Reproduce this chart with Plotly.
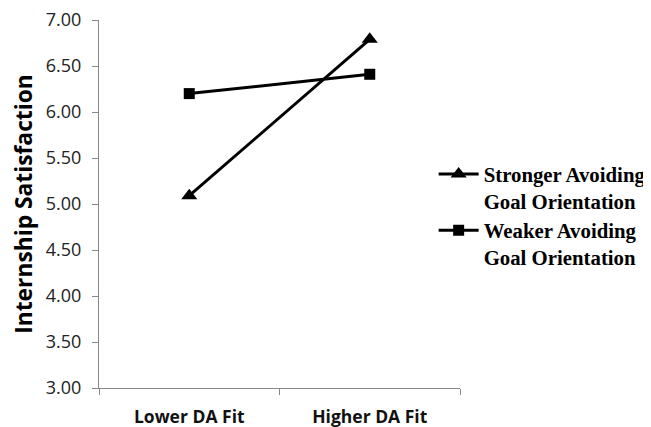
import plotly.graph_objects as go

categories = ["Lower DA Fit", "Higher DA Fit"]
stronger = [5.09, 6.79]
weaker = [6.20, 6.41]
series_names = ["Stronger Avoiding<br>Goal Orientation", "Weaker Avoiding<br>Goal Orientation"]
y_ticks = [3.0, 3.5, 4.0, 4.5, 5.0, 5.5, 6.0, 6.5, 7.0]

fig = go.Figure()
fig.add_trace(go.Scatter(
    x=categories, y=stronger, name=series_names[0], mode="lines+markers",
    line=dict(color="black", width=3),
    marker=dict(symbol="triangle-up", size=14, color="black"),
    legend="legend",
))
fig.add_trace(go.Scatter(
    x=categories, y=weaker, name=series_names[1], mode="lines+markers",
    line=dict(color="black", width=3),
    marker=dict(symbol="square", size=11, color="black"),
    legend="legend2",
))

legend_font = dict(family="Liberation Serif", size=20.8, color="black", weight="bold")

fig.update_layout(
    width=651, height=427,
    margin=dict(l=91, r=199, t=12, b=47, autoexpand=False),
    paper_bgcolor="white", plot_bgcolor="white",
    showlegend=True,
    legend=dict(
        x=0.927, xanchor="left", y=0.636, yanchor="top",
        font=legend_font, valign="top", itemwidth=40,
        bgcolor="rgba(0,0,0,0)",
    ),
    legend2=dict(
        x=0.927, xanchor="left", y=0.483, yanchor="top",
        font=legend_font, valign="top", itemwidth=40,
        bgcolor="rgba(0,0,0,0)",
    ),
    xaxis=dict(
        type="category", range=[-0.5, 1.5], automargin=False,
        showline=True, linecolor="#888888", linewidth=1.2,
        ticks="outside", tickson="boundaries", ticklen=6, tickcolor="#888888",
        showgrid=False, zeroline=False, ticklabelstandoff=13,
        ticklabeloverflow="allow",
        tickfont=dict(family="Open Sans", size=17.5, color="#111111", weight="bold"),
    ),
    yaxis=dict(
        range=[3, 7], tickvals=y_ticks, tickformat=".2f", automargin=False,
        showline=True, linecolor="#888888", linewidth=1.2,
        ticks="outside", ticklen=6, tickcolor="#888888",
        showgrid=False, zeroline=False, ticklabelstandoff=7,
        ticklabeloverflow="allow",
        tickfont=dict(family="Open Sans", size=18, color="#222222"),
        title=dict(text="Internship Satisfaction", standoff=17,
                   font=dict(family="Open Sans", size=22.8, color="black", weight="bold")),
    ),
)

fig.write_html("out.html")
